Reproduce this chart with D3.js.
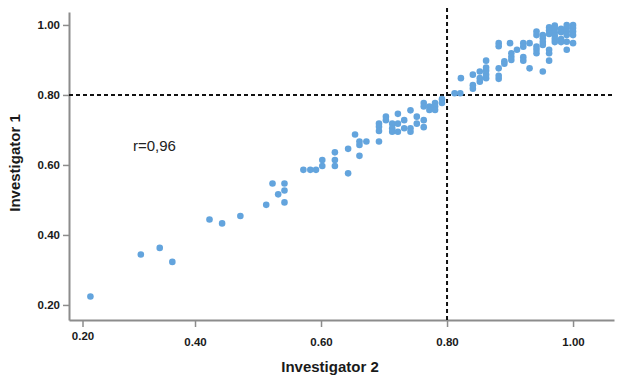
<!DOCTYPE html>
<html>
<head>
<meta charset="utf-8">
<script src="https://cdn.jsdelivr.net/npm/d3@7"></script>
<style>
  body { margin: 0; background: #fff; }
  svg { display: block; font-family: "Liberation Sans", Arial, sans-serif; }
</style>
</head>
<body>
<div id="chart"></div>
<script>
// Investigator 2 (x) vs Investigator 1 (y)
const inv2 = [
  0.234, 0.314, 0.344, 0.364, 0.423, 0.443, 0.472, 0.513, 0.523, 0.542,
  0.532, 0.542, 0.542, 0.572, 0.583, 0.592, 0.602, 0.602, 0.622, 0.622,
  0.622, 0.643, 0.643, 0.654, 0.661, 0.661, 0.661, 0.672, 0.692, 0.692,
  0.692, 0.692, 0.703, 0.703, 0.713, 0.713, 0.713, 0.722, 0.722, 0.722,
  0.732, 0.732, 0.742, 0.742, 0.742, 0.752, 0.752, 0.763, 0.763, 0.763,
  0.763, 0.772, 0.772, 0.781, 0.781, 0.781, 0.792, 0.792, 0.812, 0.821,
  0.822, 0.841, 0.841, 0.841, 0.852, 0.852, 0.852, 0.862, 0.862, 0.862,
  0.862, 0.862, 0.882, 0.882, 0.882, 0.882, 0.882, 0.891, 0.891, 0.900,
  0.902, 0.902, 0.902, 0.911, 0.921, 0.921, 0.921, 0.921, 0.931, 0.931,
  0.942, 0.942, 0.942, 0.942, 0.942, 0.952, 0.952, 0.952, 0.952, 0.952,
  0.962, 0.962, 0.962, 0.962, 0.962, 0.962, 0.971, 0.971, 0.971, 0.971,
  0.971, 0.971, 0.981, 0.981, 0.981, 0.981, 0.990, 0.990, 0.990, 0.990,
  0.990, 0.990, 1.000, 1.000, 1.000, 1.000, 1.000
];
const inv1 = [
  0.224, 0.344, 0.363, 0.323, 0.444, 0.433, 0.454, 0.486, 0.547, 0.547,
  0.516, 0.527, 0.493, 0.586, 0.586, 0.586, 0.597, 0.614, 0.636, 0.614,
  0.597, 0.576, 0.646, 0.687, 0.667, 0.657, 0.626, 0.667, 0.667, 0.718,
  0.709, 0.697, 0.738, 0.728, 0.718, 0.705, 0.695, 0.746, 0.718, 0.695,
  0.728, 0.705, 0.756, 0.705, 0.695, 0.738, 0.718, 0.728, 0.708, 0.777,
  0.767, 0.767, 0.757, 0.777, 0.767, 0.757, 0.788, 0.777, 0.805, 0.805,
  0.848, 0.818, 0.828, 0.858, 0.838, 0.848, 0.867, 0.848, 0.858, 0.869,
  0.878, 0.898, 0.846, 0.855, 0.876, 0.939, 0.948, 0.889, 0.896, 0.948,
  0.900, 0.909, 0.919, 0.929, 0.938, 0.948, 0.908, 0.898, 0.876, 0.948,
  0.981, 0.971, 0.938, 0.929, 0.919, 0.867, 0.971, 0.962, 0.952, 0.943,
  0.993, 0.984, 0.974, 0.929, 0.919, 0.898, 0.998, 0.989, 0.979, 0.969,
  0.960, 0.951, 0.989, 0.979, 0.960, 0.951, 1.000, 0.991, 0.981, 0.971,
  0.952, 0.929, 1.000, 0.991, 0.981, 0.971, 0.948
];
const tickValues = [0.2, 0.4, 0.6, 0.8, 1.0];
const cutoff = 0.80;
const rLabel = "r=0,96";

const width = 621, height = 377;
const axisColor = "#8c8c8c";

const svg = d3.select("#chart").append("svg")
  .attr("width", width)
  .attr("height", height);

const x = d3.scaleLinear().domain([0.2, 1.065]).range([69, 614]);
const y = d3.scaleLinear().domain([0.157, 1.037]).range([320, 12]);

// axes
const gx = svg.append("g")
  .attr("transform", "translate(0,320)")
  .call(d3.axisBottom(x).tickValues(tickValues).tickFormat(d3.format(".2f"))
    .tickSizeInner(7).tickSizeOuter(0).tickPadding(11));

const gy = svg.append("g")
  .attr("transform", "translate(69,0)")
  .call(d3.axisLeft(y).tickValues(tickValues).tickFormat(d3.format(".2f"))
    .tickSizeInner(6).tickSizeOuter(0).tickPadding(3));

[gx, gy].forEach(g => {
  g.select(".domain").attr("stroke", axisColor).attr("stroke-width", 2);
  g.selectAll(".tick line").attr("stroke", axisColor).attr("stroke-width", 1.5);
  g.selectAll(".tick text")
    .attr("fill", "#1a1a1a")
    .style("font-size", "11.5px")
    .style("font-weight", "bold");
});

// the 0.20 label sits off the grid in the original
gx.select(".tick").attr("transform", "translate(" + (x(0.2) + 14) + ",0)")
  .select("text").attr("dy", "0.2em");

// cutoff lines at 0.80
svg.append("line")
  .attr("x1", x(0.2)).attr("x2", x(1.065))
  .attr("y1", y(cutoff)).attr("y2", y(cutoff))
  .attr("stroke", "#111").attr("stroke-width", 2)
  .attr("stroke-dasharray", "4,3");

svg.append("line")
  .attr("x1", x(cutoff)).attr("x2", x(cutoff))
  .attr("y1", 8).attr("y2", 320)
  .attr("stroke", "#111").attr("stroke-width", 2)
  .attr("stroke-dasharray", "4,3");

// points
svg.append("g").selectAll("circle")
  .data(inv2.map((d, i) => [d, inv1[i]]))
  .enter().append("circle")
    .attr("cx", d => x(d[0]))
    .attr("cy", d => y(d[1]))
    .attr("r", 3.3)
    .attr("fill", "#63a4dd");

svg.append("text")
  .attr("x", 133)
  .attr("y", 151)
  .text(rLabel)
  .style("font-size", "15px")
  .style("fill", "#222");

// axis titles
svg.append("text")
  .attr("text-anchor", "middle")
  .attr("x", 330)
  .attr("y", 372)
  .text("Investigator 2")
  .style("font-size", "15px")
  .style("font-weight", "bold")
  .style("fill", "#1a1a1a");

svg.append("text")
  .attr("text-anchor", "middle")
  .attr("transform", "translate(20,163) rotate(-90)")
  .text("Investigator 1")
  .style("font-size", "15px")
  .style("font-weight", "bold")
  .style("fill", "#1a1a1a");
</script>
</body>
</html>
